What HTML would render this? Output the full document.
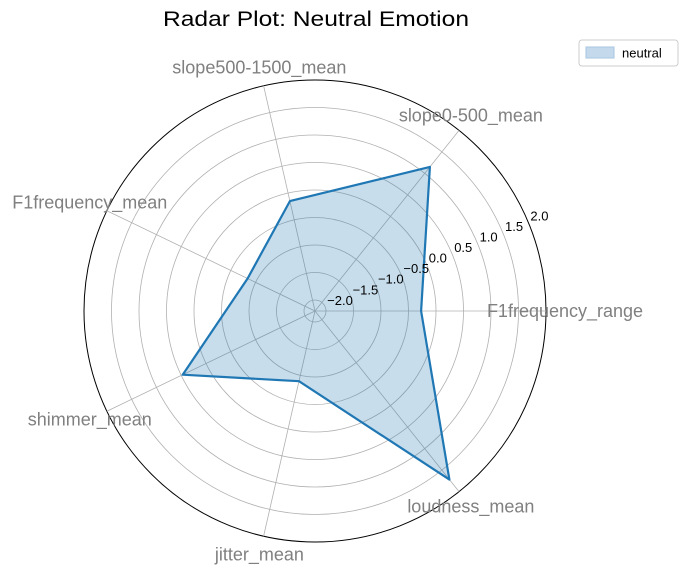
<!DOCTYPE html>
<html><head><meta charset="utf-8"><style>
body{margin:0;background:#fff}
svg{font-family:"Liberation Sans","DejaVu Sans",sans-serif}
</style></head><body>
<svg width="687" height="574" xmlns="http://www.w3.org/2000/svg">
<text x="316" y="26" font-size="21" text-anchor="middle" textLength="306" lengthAdjust="spacingAndGlyphs">Radar Plot: Neutral Emotion</text>
<g id="grid"></g>
<g id="series"></g>
<g id="labels"></g>
<g>
<rect x="579" y="40" width="99" height="26" rx="3" fill="#fff" stroke="#ccc"/>
<rect x="586" y="47" width="28" height="11" fill="#c4d9ec" stroke="#a8c6e2"/>
<text x="622" y="57.5" font-size="13">neutral</text>
</g>
</svg>
<script>
const categories=["F1frequency_range","slope0-500_mean","slope500-1500_mean","F1frequency_mean","shimmer_mean","jitter_mean","loudness_mean"];
const values=[-0.27,1.15,-0.15,-0.84,0.47,-0.89,1.72];
const ticks=[-2.0,-1.5,-1.0,-0.5,0.0,0.5,1.0,1.5,2.0];
const tickLabels=["−2.0","−1.5","−1.0","−0.5","0.0","0.5","1.0","1.5","2.0"];
const cx=315,cy=311,rMin=-2.2,rMax=2.0,R=231;
const NS="http://www.w3.org/2000/svg";
function rs(v){return (v-rMin)/(rMax-rMin)*R;}
function ang(i){return i*2*Math.PI/categories.length;}
function pt(i,v){const r=rs(v),a=ang(i);return [cx+r*Math.cos(a),cy-r*Math.sin(a)];}
function mk(t,at,p){const e=document.createElementNS(NS,t);for(const k in at)e.setAttribute(k,at[k]);p.appendChild(e);return e;}
const grid=document.getElementById('grid'),ser=document.getElementById('series'),lab=document.getElementById('labels');
ticks.forEach((t,k)=>{
 const c=mk('circle',{cx:cx,cy:cy,r:rs(t),fill:'none',stroke:k==ticks.length-1?'#000':'#b0b0b0','stroke-width':k==ticks.length-1?1:0.8},grid);
 
 
});
categories.forEach((c,i)=>{
 const [x,y]=pt(i,rMax);
 const l=mk('line',{x1:cx,y1:cy,x2:x,y2:y,stroke:'#b0b0b0','stroke-width':0.8},grid);
 
 
});
const pts=values.map((v,i)=>pt(i,v));
const d=pts.map((p,i)=>(i?'L':'M')+p[0].toFixed(1)+' '+p[1].toFixed(1)).join(' ')+'Z';
const area=mk('path',{d:d,fill:'#1f77b4','fill-opacity':0.25,stroke:'none'},ser);


const line=mk('path',{d:d,fill:'none',stroke:'#1f77b4','stroke-width':2.2,'stroke-linejoin':'round'},ser);


const ta=22.5*Math.PI/180;
ticks.forEach((t,k)=>{
 const r=rs(t);
 const e=mk('text',{x:cx+r*Math.cos(ta)+2,y:cy-r*Math.sin(ta)-2,'font-size':13},lab);
 e.textContent=tickLabels[k];
 
 
});
categories.forEach((c,i)=>{
 const a=ang(i);
 const x=cx+250*Math.cos(a),y=cy-250*Math.sin(a)+6;
 const e=mk('text',{x:x,y:y,'font-size':18,fill:'#808080','text-anchor':'middle'},lab);
 e.textContent=c;
 
 
});
</script>
</body></html>
